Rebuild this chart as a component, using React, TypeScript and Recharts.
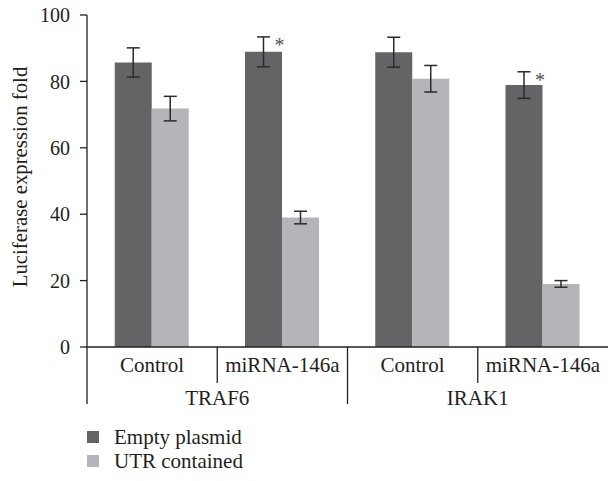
import React from 'react';
import { BarChart, Bar, XAxis, YAxis, ErrorBar, Legend, LabelList } from 'recharts';

// values
const subLabels = ['Control', 'miRNA-146a', 'Control', 'miRNA-146a'];
const groupLabels = ['TRAF6', 'TRAF6', 'IRAK1', 'IRAK1'];
const emptyPlasmid = [85.7, 88.9, 88.8, 78.9];
const emptyPlasmidErr = [4.4, 4.5, 4.5, 4.0];
const utrContained = [71.8, 39.0, 80.8, 19.0];
const utrContainedErr = [3.7, 1.9, 4.0, 1.0];
const significant = [false, true, false, true];
const yTicks = [0, 20, 40, 60, 80, 100];

const data = subLabels.map((sub, i) => ({
  sub,
  group: groupLabels[i],
  dark: emptyPlasmid[i],
  darkErr: emptyPlasmidErr[i],
  light: utrContained[i],
  lightErr: utrContainedErr[i],
  sig: significant[i] ? '*' : '',
}));

const W = 608;
const H = 481;
const LEFT = 87;
const BAND = (W - LEFT) / subLabels.length;
const FONT = '"Liberation Serif", "Times New Roman", serif';
const INK = '#231f20';
const DARK = '#646466';
const LIGHT = '#b4b5b8';

const XTick = (props: any) => {
  const { x, y, payload, index } = props;
  const edge = x - BAND / 2;
  const sameGroupAsPrev = index > 0 && data[index - 1].group === data[index].group;
  return (
    <g>
      <text x={x} y={y + 25} textAnchor="middle" fontSize={21} fontFamily={FONT} fill={INK}>
        {payload.value}
      </text>
      {sameGroupAsPrev ? (
        <>
          <line x1={edge} y1={y} x2={edge} y2={y + 36} stroke={INK} strokeWidth={1.3} />
          <text x={edge} y={y + 58} textAnchor="middle" fontSize={21} fontFamily={FONT} fill={INK}>
            {data[index].group}
          </text>
        </>
      ) : (
        <line x1={edge} y1={y} x2={edge} y2={y + 57} stroke={INK} strokeWidth={1.3} />
      )}
    </g>
  );
};

const Star = (props: any) => {
  const { x, y, width, height, value, index } = props;
  if (!value) return null;
  const perUnit = height / data[index].dark;
  const errTop = y - data[index].darkErr * perUnit;
  return (
    <text x={x + width / 2 + 16} y={errTop + 15} textAnchor="middle" fontSize={20} fontFamily={FONT} fill="#555">
      {value}
    </text>
  );
};

const LegendBox = () => (
  <div style={{ height: 75, paddingLeft: LEFT, fontFamily: FONT, fontSize: 21, color: INK, boxSizing: 'border-box', paddingTop: 19 }}>
    {[
      { name: 'Empty plasmid', color: DARK },
      { name: 'UTR contained', color: LIGHT },
    ].map((item) => (
      <div key={item.name} style={{ display: 'flex', alignItems: 'center', height: 24 }}>
        <span style={{ width: 12, height: 12, background: item.color, display: 'inline-block', marginRight: 15 }} />
        <span>{item.name}</span>
      </div>
    ))}
  </div>
);

export default function App() {
  return (
    <div style={{ position: 'absolute', left: 0, top: 0, width: W, height: H, background: '#fff' }}>
      <BarChart
        width={W}
        height={H}
        data={data}
        margin={{ top: 15, right: 0, left: 0, bottom: 0 }}
        barCategoryGap="21.3%"
        barGap={0}
      >
        <XAxis
          dataKey="sub"
          height={59}
          interval={0}
          tickSize={0}
          tickMargin={0}
          tickLine={false}
          axisLine={{ stroke: INK, strokeWidth: 1.3 }}
          tick={<XTick />}
        />
        <YAxis
          width={LEFT}
          domain={[0, 100]}
          ticks={yTicks}
          tickSize={7}
          tickMargin={10}
          axisLine={{ stroke: INK, strokeWidth: 1.3 }}
          tickLine={{ stroke: INK, strokeWidth: 1.3 }}
          tick={{ fill: INK, fontSize: 20, fontFamily: FONT }}
          label={{
            content: () => (
              <text
                transform="rotate(-90, 27, 177)"
                x={27}
                y={177}
                textAnchor="middle"
                fontSize={20.8}
                fontFamily={FONT}
                fill={INK}
              >
                Luciferase expression fold
              </text>
            ),
          }}
        />
        <Legend verticalAlign="bottom" align="left" height={75} content={<LegendBox />} />
        <Bar dataKey="dark" name="Empty plasmid" fill={DARK} isAnimationActive={false}>
          <ErrorBar dataKey="darkErr" width={6.5} stroke="#2b2b2b" strokeWidth={1.5} />
          <LabelList dataKey="sig" content={<Star />} />
        </Bar>
        <Bar dataKey="light" name="UTR contained" fill={LIGHT} isAnimationActive={false}>
          <ErrorBar dataKey="lightErr" width={6.5} stroke="#2b2b2b" strokeWidth={1.5} />
        </Bar>
      </BarChart>
    </div>
  );
}
